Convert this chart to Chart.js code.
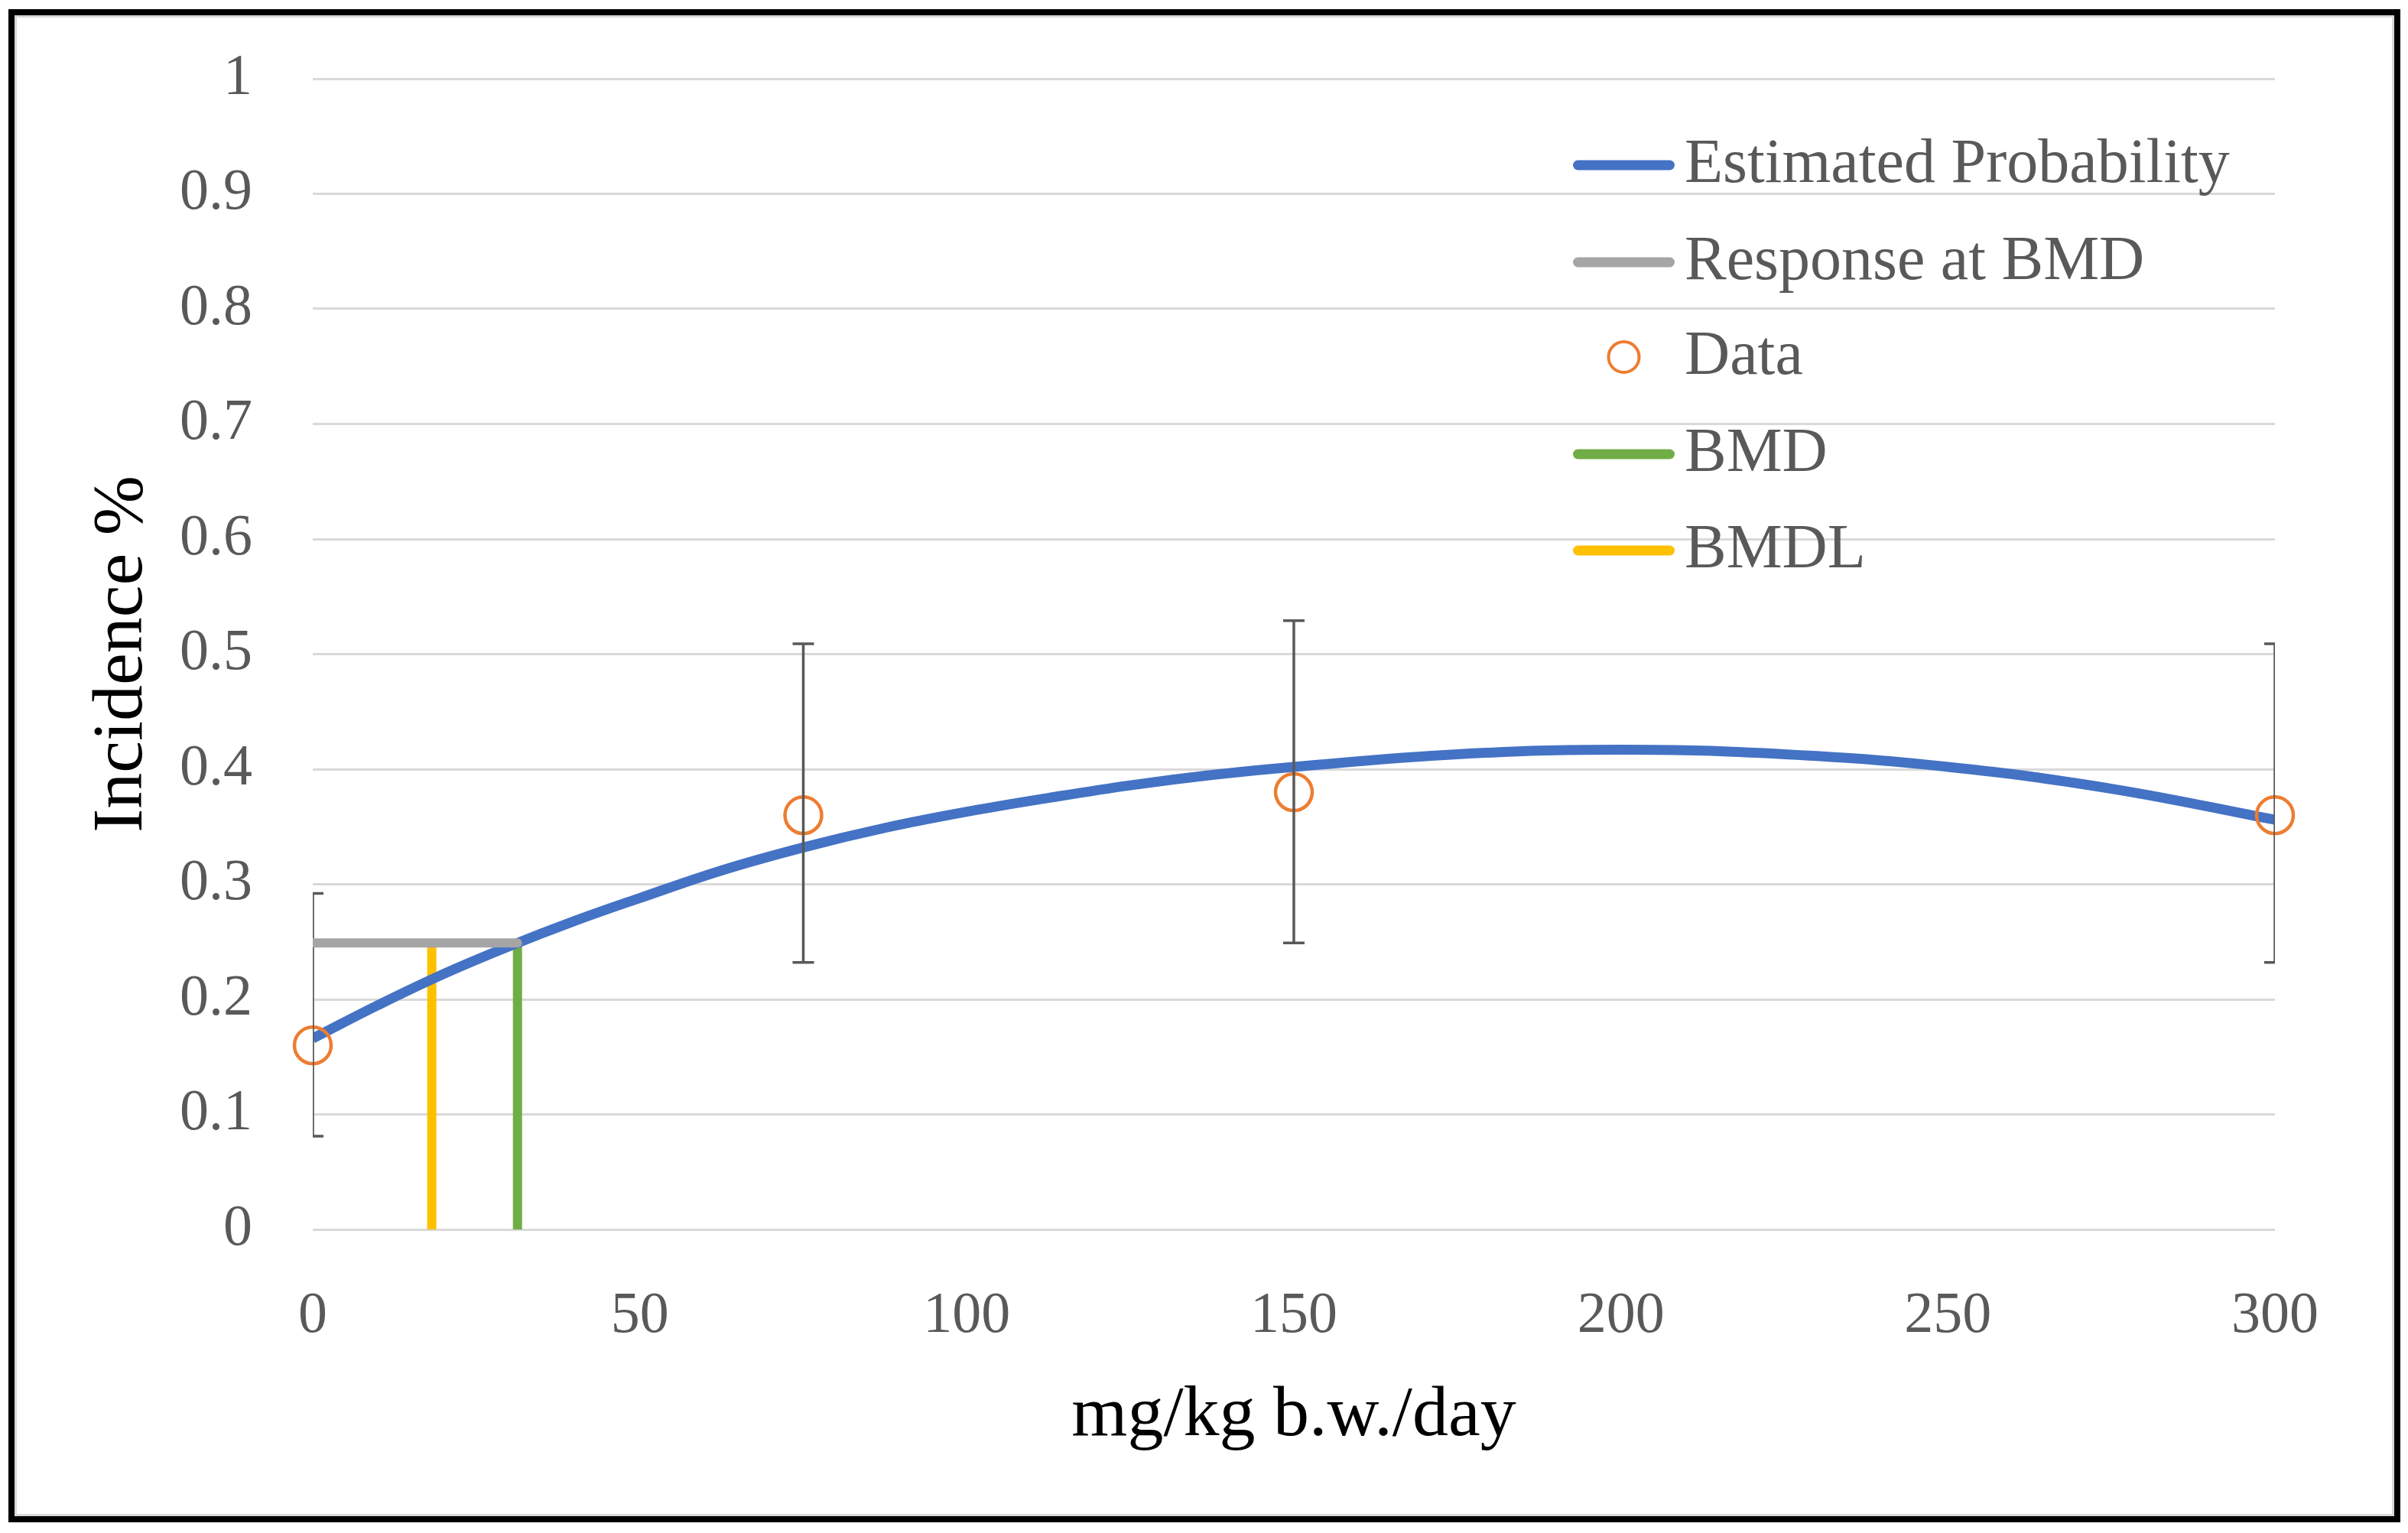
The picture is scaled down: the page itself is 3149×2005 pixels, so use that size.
<!DOCTYPE html>
<html>
<head>
<meta charset="utf-8">
<title>BMD dose-response</title>
<script src="https://cdn.jsdelivr.net/npm/chart.js@4.4.1/dist/chart.umd.min.js"></script>
<style>
  html, body { margin: 0; padding: 0; background: #fff; }
  body { width: 3149px; height: 2005px; position: relative; overflow: hidden; }
  #frame { position: absolute; left: 11px; top: 12px; width: 3128px; height: 1979px; box-sizing: border-box; border: 8px solid #000; }
  #frame-inner { width: 100%; height: 100%; box-sizing: border-box; border: 3px solid #d9d9d9; }
  #chart { position: absolute; left: 0; top: 0; }
</style>
</head>
<body>
<div id="frame"><div id="frame-inner"></div></div>
<canvas id="chart" width="3149" height="2005"></canvas>
<script>
// fitted curve
const curveDose = [0, 10, 20, 30, 40, 50, 62.5, 75, 87.5, 100, 112.5, 125, 137.5, 150, 175, 200, 225, 250, 275, 300];
const curveProb = [0.166, 0.195, 0.222, 0.246, 0.268, 0.288, 0.312, 0.332, 0.349, 0.363, 0.375, 0.386, 0.395, 0.402, 0.413, 0.417, 0.413, 0.402, 0.383, 0.356];

// observed incidence with confidence limits
const doses = [0, 75, 150, 300];
const incidence = [0.16, 0.36, 0.38, 0.36];
const ciLower = [0.081, 0.232, 0.249, 0.232];
const ciUpper = [0.292, 0.509, 0.529, 0.509];

const bmd = 31.3;
const bmdl = 18.2;
const bmdResponse = 0.249;

const xTickLabels = ['0', '50', '100', '150', '200', '250', '300'];
const yTickLabels = ['0', '0.1', '0.2', '0.3', '0.4', '0.5', '0.6', '0.7', '0.8', '0.9', '1'];

const serif = "'Liberation Serif', 'Times New Roman', serif";
const grey = '#595959';

// error bars drawn right after the Data series, clipped to the plot area
const errorBars = {
    id: 'errorBars',
    afterDatasetDraw(chart, args) {
        if (args.meta.label !== 'Data') return;
        const { ctx, chartArea, scales } = chart;
        ctx.save();
        ctx.beginPath();
        ctx.rect(chartArea.left, chartArea.top, chartArea.width, chartArea.height);
        ctx.clip();
        ctx.strokeStyle = grey;
        ctx.lineWidth = 3.5;
        doses.forEach((d, i) => {
            const x = scales.x.getPixelForValue(d);
            const yLo = scales.y.getPixelForValue(ciLower[i]);
            const yHi = scales.y.getPixelForValue(ciUpper[i]);
            ctx.beginPath();
            ctx.moveTo(x, yLo);
            ctx.lineTo(x, yHi);
            ctx.moveTo(x - 14, yLo);
            ctx.lineTo(x + 14, yLo);
            ctx.moveTo(x - 14, yHi);
            ctx.lineTo(x + 14, yHi);
            ctx.stroke();
        });
        ctx.restore();
    }
};

// Excel style legend stacked in the upper right of the plot
const sketchLegend = {
    id: 'sketchLegend',
    afterDraw(chart, args, opts) {
        const ctx = chart.ctx;
        ctx.save();
        ctx.font = opts.fontSize + 'px ' + serif;
        ctx.textBaseline = 'middle';
        ctx.textAlign = 'left';
        chart.data.datasets.forEach((ds, i) => {
            const y = opts.rows[i];
            if (ds.showLine === false) {
                ctx.beginPath();
                ctx.arc(opts.x + opts.sampleWidth / 2, y, 20, 0, Math.PI * 2);
                ctx.strokeStyle = ds.borderColor;
                ctx.lineWidth = 4;
                ctx.stroke();
            } else {
                ctx.beginPath();
                ctx.lineCap = 'round';
                ctx.moveTo(opts.x + 6.5, y);
                ctx.lineTo(opts.x + opts.sampleWidth - 6.5, y);
                ctx.strokeStyle = ds.borderColor;
                ctx.lineWidth = 13;
                ctx.stroke();
            }
            ctx.fillStyle = grey;
            ctx.fillText(ds.label, opts.textX, y);
        });
        ctx.restore();
    }
};

new Chart(document.getElementById('chart'), {
    type: 'scatter',
    data: {
        datasets: [
            {
                label: 'Estimated Probability',
                data: curveDose.map((d, i) => ({ x: d, y: curveProb[i] })),
                showLine: true,
                borderColor: '#4472C4',
                borderWidth: 13,
                pointRadius: 0,
                tension: 0.4,
                order: 3
            },
            {
                label: 'Response at BMD',
                data: [{ x: 0, y: bmdResponse }, { x: bmd, y: bmdResponse }],
                showLine: true,
                borderColor: '#A5A5A5',
                borderWidth: 12,
                borderCapStyle: 'round',
                pointRadius: 0,
                order: 1
            },
            {
                label: 'Data',
                data: doses.map((d, i) => ({ x: d, y: incidence[i] })),
                showLine: false,
                borderColor: '#ED7D31',
                backgroundColor: 'rgba(0,0,0,0)',
                borderWidth: 4.5,
                pointRadius: 24,
                pointStyle: 'circle',
                clip: false,
                order: 2
            },
            {
                label: 'BMD',
                data: [{ x: bmd, y: 0 }, { x: bmd, y: bmdResponse }],
                showLine: true,
                borderColor: '#70AD47',
                borderWidth: 12,
                pointRadius: 0,
                order: 4
            },
            {
                label: 'BMDL',
                data: [{ x: bmdl, y: 0 }, { x: bmdl, y: bmdResponse }],
                showLine: true,
                borderColor: '#FFC000',
                borderWidth: 12,
                pointRadius: 0,
                order: 5
            }
        ]
    },
    options: {
        responsive: false,
        devicePixelRatio: 1,
        animation: false,
        events: [],
        layout: { padding: { top: 103, left: 0, right: 174, bottom: 0 } },
        plugins: {
            legend: { display: false },
            tooltip: { enabled: false },
            sketchLegend: { x: 2057, textX: 2203, sampleWidth: 133, fontSize: 82, rows: [216, 343, 467, 594, 720] }
        },
        scales: {
            x: {
                type: 'linear',
                min: 0,
                max: 300,
                afterFit: scale => { scale.height = 397; },
                grid: { display: false },
                border: { display: false },
                ticks: {
                    stepSize: 50,
                    padding: 60,
                    color: grey,
                    font: { family: serif, size: 76 },
                    callback: (value, index) => xTickLabels[index]
                },
                title: {
                    display: true,
                    text: 'mg/kg b.w./day',
                    color: '#000',
                    font: { family: serif, size: 94 },
                    padding: { top: 0, bottom: 96 }
                }
            },
            y: {
                type: 'linear',
                min: 0,
                max: 1,
                afterFit: scale => { scale.width = 409; },
                // invisible tick marks push the labels left without adding top padding
                grid: { color: '#D9D9D9', lineWidth: 3, drawTicks: true, tickLength: 79, tickColor: 'rgba(0,0,0,0)' },
                border: { display: false },
                ticks: {
                    stepSize: 0.1,
                    padding: 0,
                    color: grey,
                    font: { family: serif, size: 76 },
                    callback: (value, index) => yTickLabels[index]
                },
                title: {
                    display: true,
                    text: 'Incidence %',
                    color: '#000',
                    font: { family: serif, size: 94 },
                    padding: { top: 104, bottom: 0 }
                }
            }
        }
    },
    plugins: [errorBars, sketchLegend]
});
</script>
</body>
</html>
